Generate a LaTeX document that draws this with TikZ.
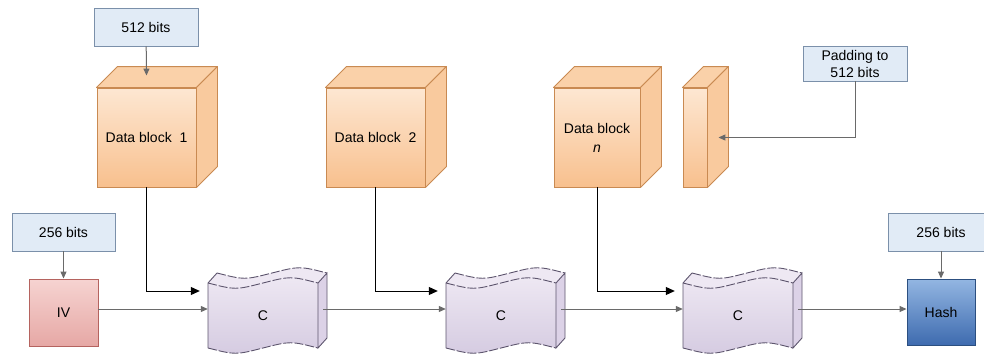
\documentclass[tikz,border=0pt]{standalone}
\usepackage{fontspec}
\setmainfont{Liberation Sans}
\usetikzlibrary{calc,arrows.meta}

\definecolor{infofill}{HTML}{E1EBF6}
\definecolor{infoline}{HTML}{7B90AA}
\definecolor{blockline}{HTML}{C98A52}
\definecolor{blocklight}{HTML}{FDE7D2}
\definecolor{blockdark}{HTML}{F8C08E}
\definecolor{blocktop}{HTML}{FAD1A9}
\definecolor{blockright}{HTML}{F9CA9E}
\definecolor{ivline}{HTML}{B5635F}
\definecolor{ivlight}{HTML}{F6D3D1}
\definecolor{ivdark}{HTML}{E6A8A5}
\definecolor{compline}{HTML}{5E566E}
\definecolor{complight}{HTML}{EEE8F3}
\definecolor{compdark}{HTML}{D5CBE1}
\definecolor{compside}{HTML}{DCD2E7}
\definecolor{hashline}{HTML}{2C4F80}
\definecolor{hashlight}{HTML}{93B6E2}
\definecolor{hashdark}{HTML}{3E6BAF}
\definecolor{feedline}{HTML}{6A6A6A}

\tikzset{
  info/.style={draw=infoline, fill=infofill, line width=0.9pt, minimum width=104pt, minimum height=38pt, inner sep=0pt, align=center},
  block/.style={draw=blockline, top color=blocklight, bottom color=blockdark, line width=0.9pt, minimum width=99pt, minimum height=99pt, inner sep=0pt, align=center},
  blockface/.style={draw=blockline, line width=0.9pt, line join=round},
  square/.style={line width=0.9pt, minimum width=69pt, minimum height=67pt, inner sep=0pt},
  feed/.style={draw=feedline, line width=1pt, -{Triangle[length=7pt,width=6pt]}},
  data/.style={draw=black, line width=1pt, -{Triangle[length=9pt,width=8pt]}},
  wave/.style={draw=compline, line width=0.9pt, dash pattern=on 9pt off 2pt},
  edge/.style={draw=compline, line width=0.9pt}
}

% top and right faces of a block node: (node)(depth)
\def\cubefaces(#1)(#2){
  \draw[blockface, fill=blocktop] (#1.north west) -- ($(#1.north west)+(#2,-#2)$) -- ($(#1.north east)+(#2,-#2)$) -- (#1.north east) -- cycle;
  \draw[blockface, fill=blockright] (#1.north east) -- ($(#1.north east)+(#2,-#2)$) -- ($(#1.south east)+(#2,-#2)$) -- (#1.south east) -- cycle;
}

% compression box: (name)(north west corner of the front face)
\def\compbox(#1)(#2){
  \begin{scope}[shift={(#2)}]
    \shade[top color=complight, bottom color=compdark] (0,0) .. controls (27.5,7) .. (55,0) .. controls (82.5,-7) .. (110,0) -- (110,65) .. controls (82.5,58) .. (55,65) .. controls (27.5,72) .. (0,65) -- cycle;
    \fill[complight] (0,0) .. controls (27.5,7) .. (55,0) .. controls (82.5,-7) .. (110,0) -- (119,-10) .. controls (91.5,-17) .. (64,-10) .. controls (36.5,-3) .. (9,-10) -- cycle;
    \fill[compside] (110,0) -- (119,-10) -- (119,55) -- (110,65) -- cycle;
    \draw[wave] (0,0) .. controls (27.5,7) .. (55,0) .. controls (82.5,-7) .. (110,0);
    \draw[wave] (9,-10) .. controls (36.5,-3) .. (64,-10) .. controls (91.5,-17) .. (119,-10);
    \draw[wave] (0,65) .. controls (27.5,72) .. (55,65) .. controls (82.5,58) .. (110,65);
    \draw[edge] (9,-10) -- (0,0) -- (0,65);
    \draw[edge] (119,-10) -- (110,0) -- (110,65) -- (119,55) -- cycle;
  \end{scope}
  \node[inner sep=0pt, minimum width=110pt, minimum height=65pt] (#1) at ($(#2)+(55,32.5)$) {C};
}

\begin{document}
\begin{tikzpicture}[x=1pt, y=-1pt, font=\fontsize{14}{17}\selectfont]
			\useasboundingbox (0,0) rectangle (984,353);
			\coordinate (row) at (0,309);
			
			%%%%% DATA BLOCKS %%%%%
			
			\node[info] (bits1) at (146,27) {512 bits};
			\node[block] (block1) at (146.5,137.5) {Data block\ \ 1};
			\cubefaces(block1)(21)
			
			\node[block] (block2) at (375.5,137.5) {Data block\ \ 2};
			\cubefaces(block2)(21)
			
			\node[block, minimum width=86pt] (blockn) at (597,137.5) {Data block\\[2pt]\textit{n}};
			\cubefaces(blockn)(21)
			
			\node[block, minimum width=24pt] (pad) at (695,137.5) {};
			\cubefaces(pad)(21)
			\node[info, minimum height=35pt] (padbox) at (855,63.5) {Padding to\\512 bits};
			
			%%%%% CHAIN %%%%%
			
			\node[info, minimum width=103pt] (bits2) at (63.5,232) {256 bits};
			\node[square, draw=ivline, top color=ivlight, bottom color=ivdark] (iv) at (63.5,312.5) {IV};
			
			\compbox(c1)(208,283)
			\compbox(c2)(446,283)
			\compbox(c3)(683,283)
			
			\node[info, minimum width=106pt] (bits3) at (941,232) {256 bits};
			\node[square, minimum width=68pt, minimum height=66pt, draw=hashline, top color=hashlight, bottom color=hashdark] (hash) at (941,312) {Hash};
			
			%%%%% ARROWS %%%%%
			
			\draw[feed] (bits1) -- ($(block1.north)+(0,-12)$);
			\draw[feed] (padbox) |- ($(pad.east)+(11,0)$);
			\draw[feed] (bits2) -- (iv);
			\draw[feed] (bits3) -- (hash);
			
			\draw[data] (block1) |- ($(c1.west)+(-8,-24.5)$);
			\draw[data] (block2) |- ($(c2.west)+(-8,-24.5)$);
			\draw[data] (blockn) |- ($(c3.west)+(-8,-24.5)$);
			
			\draw[feed] (iv.east |- row) -- (c1.west |- row);
			\draw[feed] ($(c1.east |- row)+(5,0)$) -- (c2.west |- row);
			\draw[feed] ($(c2.east |- row)+(5,0)$) -- (c3.west |- row);
			\draw[feed] ($(c3.east |- row)+(5,0)$) -- (hash.west |- row);
			
\end{tikzpicture}
\end{document}
